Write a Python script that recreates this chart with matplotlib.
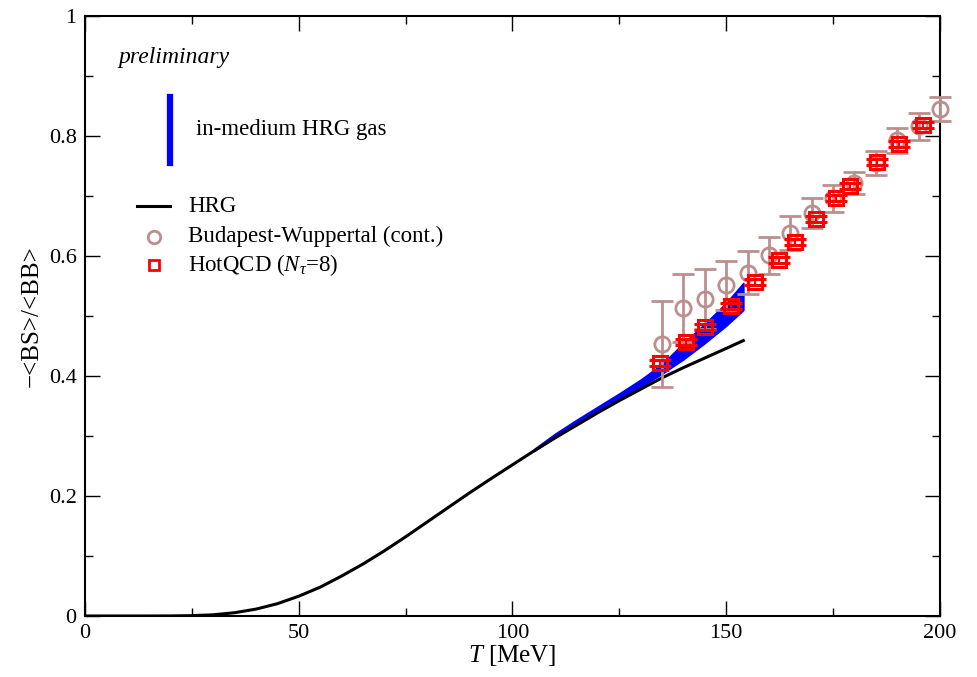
import matplotlib
matplotlib.use("Agg")
import matplotlib.pyplot as plt
from matplotlib.lines import Line2D

plt.rcParams['font.family'] = ['Liberation Serif', 'DejaVu Serif']
plt.rcParams['mathtext.fontset'] = 'custom'
plt.rcParams['mathtext.rm'] = 'Liberation Serif'
plt.rcParams['mathtext.it'] = 'Liberation Serif:italic'

# HRG curve
hrg_T = [0, 5, 10, 15, 20, 25, 30, 35, 40, 45, 50, 55, 60, 65, 70, 75, 80, 85,
         90, 95, 100, 105, 110, 115, 120, 125, 130, 135, 140, 145, 150, 154]
hrg_v = [0, 0, 0, 0, 0.0001, 0.0006, 0.002, 0.0055, 0.0115, 0.0205, 0.033,
         0.048, 0.0665, 0.0865, 0.1085, 0.132, 0.1565, 0.181, 0.2055, 0.229,
         0.252, 0.275, 0.297, 0.318, 0.339, 0.359, 0.378, 0.397, 0.414, 0.430,
         0.446, 0.459]

# in-medium HRG band
band_T = [105, 110, 115, 120, 125, 130, 135, 140, 145, 150, 154]
band_lo = [0.275, 0.298, 0.320, 0.341, 0.361, 0.382, 0.404, 0.428, 0.455,
           0.484, 0.510]
band_hi = [0.278, 0.304, 0.327, 0.349, 0.371, 0.394, 0.420, 0.455, 0.487,
           0.522, 0.555]

# Budapest-Wuppertal (cont.)
bw_T = [135, 140, 145, 150, 155, 160, 165, 170, 175, 180, 185, 190, 195, 200]
bw_v = [0.453, 0.513, 0.529, 0.551, 0.572, 0.601, 0.638, 0.672, 0.696, 0.722,
        0.755, 0.793, 0.816, 0.845]
bw_e = [0.072, 0.057, 0.050, 0.041, 0.036, 0.031, 0.028, 0.025, 0.022, 0.018,
        0.020, 0.021, 0.022, 0.020]

# HotQCD (Ntau=8)
hq_T = [134.6, 140.5, 145.0, 151.0, 156.8, 162.3, 166.0, 171.0, 175.6, 178.9,
        185.3, 190.5, 196.1]
hq_v = [0.421, 0.456, 0.481, 0.517, 0.557, 0.593, 0.623, 0.661, 0.696, 0.717,
        0.757, 0.786, 0.819]
hq_e = [0.005] * len(hq_T)

fig = plt.figure(figsize=(9.77, 6.77), dpi=100)
ax = fig.add_axes([0.0870, 0.0901, 0.8751, 0.8863])

ax.fill_between(band_T, band_lo, band_hi, color='#0000ff', lw=1.2,
                edgecolor='#0000ff', zorder=1)
ax.plot(hrg_T, hrg_v, '-', color='black', lw=2.2, zorder=2)
ax.errorbar(bw_T, bw_v, yerr=bw_e, fmt='o', ms=11, mfc='none', mec='#bc8f8f',
            mew=2, ecolor='#bc8f8f', elinewidth=2, capsize=8, capthick=2,
            zorder=3, clip_on=False)
ax.errorbar(hq_T, hq_v, yerr=hq_e, fmt='s', ms=10, mfc='none', mec='#ff0000',
            mew=2.2, ecolor='#ff0000', elinewidth=1.5, capsize=8, capthick=1.8,
            zorder=4, clip_on=False)

ax.set_xlim(0, 200)
ax.set_ylim(0, 1)
ax.set_xticks([0, 50, 100, 150, 200])
ax.set_xticks([25, 75, 125, 175], minor=True)
ax.set_yticks([0, 0.2, 0.4, 0.6, 0.8, 1])
ax.set_yticklabels(['0', '0.2', '0.4', '0.6', '0.8', '1'])
ax.set_yticks([0.1, 0.3, 0.5, 0.7, 0.9], minor=True)
ax.tick_params(which='both', direction='in', top=True, right=True,
               labelsize=16, width=1, pad=6)
ax.tick_params(which='major', length=11)
ax.tick_params(which='minor', length=6)
for s in ax.spines.values():
    s.set_linewidth(1.5)

ax.set_xlabel('$T$ [MeV]', fontsize=18, labelpad=0)
ax.set_ylabel('\u2212<BS>/<BB>', fontsize=18, labelpad=4)

# legend, drawn by hand
ax.text(0.0386, 0.93, 'preliminary', transform=ax.transAxes, fontsize=17,
        style='italic', va='center', ha='left')
ax.add_line(Line2D([0.0993, 0.0993], [0.755, 0.865], transform=ax.transAxes,
                   color='#0000ff', lw=4.5))
ax.text(0.13, 0.81, 'in-medium HRG gas', transform=ax.transAxes, fontsize=16.5,
        va='center', ha='left')
ax.add_line(Line2D([0.061, 0.0993], [0.683, 0.683], transform=ax.transAxes,
                   color='black', lw=2.2))
ax.text(0.1205, 0.683, 'HRG', transform=ax.transAxes, fontsize=16.5,
        va='center', ha='left')
ax.add_line(Line2D([0.0807], [0.632], transform=ax.transAxes, marker='o',
                   ms=9, mfc='none', mec='#bc8f8f', mew=2, ls='none'))
ax.text(0.1205, 0.632, 'Budapest-Wuppertal (cont.)', transform=ax.transAxes,
        fontsize=16.5, va='center', ha='left')
ax.add_line(Line2D([0.0807], [0.585], transform=ax.transAxes, marker='s',
                   ms=7, mfc='none', mec='#ff0000', mew=2, ls='none'))
ax.text(0.1205, 0.585, 'HotQCD ($N_{\\tau}$=8)', transform=ax.transAxes,
        fontsize=16.5, va='center', ha='left')

fig.savefig('out.png', dpi=100)
